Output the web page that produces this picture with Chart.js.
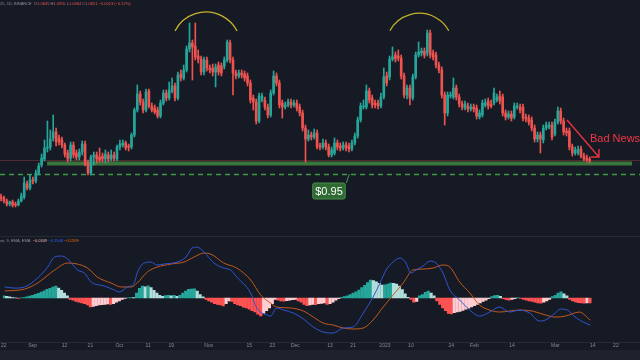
<!DOCTYPE html>
<html><head><meta charset="utf-8">
<script src="https://cdn.jsdelivr.net/npm/chart.js@4.4.0/dist/chart.umd.min.js"></script>
<style>
html,body{margin:0;padding:0;background:#161a25;width:640px;height:360px;overflow:hidden;}
#wrap{position:relative;width:640px;height:360px;background:#161a25;}
#pc{position:absolute;left:0;top:0;}
#mc{position:absolute;left:0;top:237px;}
.sep{position:absolute;left:0;width:640px;height:1px;background:#262a35;}
#strip{position:absolute;left:0;top:350px;width:640px;height:10px;background:#1e222d;}
.leg{position:absolute;left:0;font:4px 'Liberation Sans',sans-serif;color:#8f929b;white-space:nowrap;line-height:4px;}
</style></head>
<body><div id="wrap">
<canvas id="pc" width="640" height="236"></canvas>
<div class="sep" style="top:236px"></div>
<canvas id="mc" width="640" height="113"></canvas>
<div class="sep" style="top:342px"></div>
<div id="strip"></div>
<div class="leg" style="top:2px">25, 1D, BINANCE&nbsp; O<span style="color:#ef5350">1.0845</span> H<span style="color:#ef5350">1.0955</span> L<span style="color:#ef5350">1.0684</span> C<span style="color:#ef5350">1.0821</span> <span style="color:#ef5350">−0.0013 (−0.12%)</span></div>
<div class="leg" style="top:238.5px">se, 9, EMA, EMA&nbsp; <span style="color:#f5b3b1">−0.0349</span> <span style="color:#2962ff">−0.1948</span> <span style="color:#ff6d00">−0.1599</span></div>
</div>
<script>
// ---------- DATA ----------
const open = [
.72,.71,.68,.65,.67,.65,.64,.68,.72,.85,
.81,.89,.88,.96,1.04,1.10,1.21,1.22,1.31,1.37,
1.31,1.29,1.24,1.16,1.11,1.24,1.16,1.12,1.17,1.25,
1.06,.96,1.12,1.14,1.12,1.13,1.10,1.14,1.10,1.14,
1.10,1.22,1.24,1.26,1.23,1.22,1.34,1.59,1.75,1.67,
1.59,1.78,1.63,1.61,1.59,1.53,1.66,1.76,1.71,1.78,
1.83,1.71,1.95,1.91,1.99,2.20,2.26,2.23,2.13,2.10,
1.97,2.09,2.01,2.01,1.97,2.04,2.03,2.03,2.09,2.26,
2.09,1.96,1.93,1.96,1.95,1.93,1.86,1.71,1.67,1.48,
1.69,1.69,1.62,1.54,1.76,1.93,1.86,1.66,1.62,1.64,
1.67,1.64,1.66,1.62,1.56,1.41,1.30,1.34,1.32,1.36,
1.23,1.22,1.26,1.22,1.14,1.16,1.26,1.23,1.21,1.24,
1.23,1.20,1.26,1.33,1.49,1.62,1.62,1.78,1.71,1.66,
1.66,1.63,1.72,1.93,1.92,2.10,2.14,2.13,2.11,1.93,
1.74,1.81,1.71,1.92,2.14,2.16,2.18,2.16,2.36,2.16,
2.14,2.04,1.99,1.74,1.56,1.73,1.72,1.81,1.72,1.65,
1.61,1.63,1.60,1.62,1.61,1.52,1.54,1.64,1.68,1.65,
1.66,1.69,1.73,1.72,1.56,1.52,1.55,1.52,1.62,1.62,
1.62,1.52,1.51,1.49,1.41,1.30,1.34,1.29,1.41,1.42,
1.44,1.35,1.47,1.58,1.48,1.38,1.38,1.22,1.16,1.16,
1.20,1.13,1.11,1.10];
const close = [
.71,.68,.65,.67,.64,.64,.68,.73,.86,.81,
.89,.88,.96,1.03,1.11,1.21,1.22,1.30,1.37,1.27,
1.27,1.24,1.15,1.10,1.24,1.14,1.12,1.17,1.25,1.05,
.96,1.12,1.14,1.10,1.09,1.10,1.15,1.10,1.14,1.11,
1.22,1.25,1.26,1.21,1.22,1.34,1.59,1.75,1.67,1.59,
1.77,1.63,1.59,1.57,1.53,1.66,1.76,1.71,1.79,1.83,
1.71,1.94,1.91,1.99,2.20,2.26,2.22,2.12,2.10,1.97,
2.09,2.01,1.99,1.97,2.02,1.97,1.96,2.09,2.27,2.09,
1.96,1.93,1.96,1.94,1.91,1.86,1.69,1.67,1.48,1.73,
1.73,1.62,1.54,1.76,1.93,1.86,1.64,1.62,1.64,1.67,
1.64,1.66,1.61,1.56,1.41,1.30,1.34,1.32,1.36,1.22,
1.22,1.26,1.22,1.14,1.19,1.26,1.22,1.21,1.24,1.21,
1.20,1.26,1.33,1.49,1.63,1.63,1.78,1.69,1.64,1.64,
1.63,1.72,1.92,1.86,2.10,2.12,2.10,2.11,1.93,1.74,
1.81,1.71,1.92,2.14,2.17,2.18,2.14,2.36,2.14,2.12,
2.04,1.99,1.74,1.56,1.74,1.74,1.81,1.72,1.65,1.62,
1.65,1.60,1.62,1.60,1.53,1.56,1.66,1.66,1.63,1.63,
1.76,1.72,1.68,1.56,1.52,1.55,1.51,1.63,1.63,1.59,
1.51,1.50,1.47,1.41,1.30,1.34,1.30,1.41,1.44,1.44,
1.32,1.47,1.58,1.48,1.37,1.36,1.22,1.16,1.19,1.20,
1.13,1.10,1.09,1.08];
const high = [
.75,.73,.70,.68,.69,.67,.70,.76,.92,.88,
.94,.92,.99,1.06,1.15,1.29,1.48,1.39,1.54,1.41,
1.34,1.32,1.26,1.19,1.27,1.27,1.19,1.20,1.28,1.28,
1.09,1.14,1.17,1.17,1.21,1.16,1.19,1.17,1.19,1.17,
1.24,1.29,1.29,1.28,1.25,1.36,1.61,1.84,1.78,1.70,
1.80,1.80,1.66,1.64,1.62,1.69,1.79,1.79,1.87,1.91,
1.86,1.97,1.99,2.04,2.23,2.46,2.29,2.46,2.19,2.13,
2.12,2.12,2.04,2.05,2.05,2.07,2.06,2.12,2.29,2.29,
2.12,1.99,1.99,1.99,1.98,1.96,1.89,1.74,1.70,1.76,
1.76,1.72,1.65,1.79,1.98,1.96,1.89,1.69,1.67,1.70,
1.70,1.69,1.69,1.65,1.59,1.44,1.39,1.37,1.40,1.39,
1.26,1.30,1.29,1.25,1.22,1.31,1.29,1.26,1.27,1.27,
1.26,1.29,1.36,1.52,1.66,1.69,1.84,1.81,1.74,1.69,
1.69,1.76,2.01,1.97,2.13,2.22,2.17,2.19,2.14,1.96,
1.84,1.84,1.95,2.17,2.27,2.21,2.21,2.39,2.39,2.19,
2.17,2.07,2.02,1.77,1.77,1.77,1.91,1.84,1.75,1.68,
1.68,1.66,1.65,1.65,1.64,1.59,1.69,1.70,1.71,1.69,
1.81,1.75,1.78,1.75,1.59,1.58,1.58,1.66,1.66,1.65,
1.65,1.55,1.54,1.52,1.44,1.37,1.37,1.44,1.47,1.47,
1.47,1.50,1.62,1.61,1.51,1.41,1.41,1.25,1.22,1.23,
1.23,1.16,1.14,1.12];
const low = [
.68,.66,.63,.63,.62,.62,.63,.67,.70,.79,
.79,.85,.86,.94,1.02,1.08,1.17,1.19,1.28,1.23,
1.24,1.21,1.12,1.07,1.08,1.11,1.09,1.09,1.14,1.03,
.94,.94,1.04,1.06,1.07,1.07,1.06,1.07,1.08,1.08,
1.08,1.19,1.22,1.19,1.18,1.20,1.32,1.57,1.64,1.56,
1.57,1.61,1.57,1.55,1.51,1.51,1.64,1.68,1.69,1.76,
1.68,1.69,1.88,1.89,1.97,2.17,1.89,2.09,2.06,1.94,
1.94,1.98,1.96,1.93,1.82,1.94,1.93,2.00,2.07,2.06,
1.74,1.90,1.91,1.91,1.88,1.83,1.66,1.59,1.45,1.46,
1.67,1.59,1.51,1.52,1.74,1.83,1.61,1.51,1.60,1.62,
1.61,1.62,1.58,1.53,1.38,1.07,1.28,1.29,1.30,1.20,
1.19,1.20,1.19,1.12,1.12,1.14,1.19,1.18,1.19,1.18,
1.17,1.18,1.24,1.31,1.47,1.60,1.60,1.66,1.61,1.61,
1.60,1.61,1.70,1.83,1.89,2.08,2.07,2.08,1.90,1.71,
1.70,1.64,1.69,1.90,2.12,2.13,2.11,2.13,2.11,2.09,
2.01,1.96,1.71,1.44,1.53,1.71,1.70,1.69,1.62,1.59,
1.59,1.57,1.58,1.57,1.50,1.50,1.52,1.62,1.60,1.61,
1.64,1.67,1.65,1.53,1.49,1.50,1.48,1.50,1.60,1.56,
1.48,1.47,1.44,1.38,1.27,1.27,1.16,1.26,1.39,1.40,
1.29,1.33,1.45,1.45,1.34,1.33,1.19,1.13,1.14,1.14,
1.11,1.08,1.07,1.06];
// MACD histogram, one value per candle
const hist = [
.015,.012,.008,.004,.002,-.002,.001,.003,.008,.014,
.02,.027,.034,.043,.052,.062,.07,.079,.086,.072,
.055,.035,.015,-.01,-.015,-.025,-.03,-.035,-.04,-.05,
-.064,-.06,-.055,-.05,-.048,-.045,-.042,-.046,-.04,-.03,
-.02,-.01,-.003,.002,.004,.003,.035,.07,.085,.08,
.088,.075,.055,.035,.02,.012,.018,.02,.015,.02,
.012,.02,.035,.05,.062,.064,.065,.05,.025,.008,
-.01,-.02,-.03,-.04,-.045,-.05,-.057,-.04,-.02,-.025,
-.04,-.05,-.055,-.065,-.07,-.08,-.09,-.1,-.115,-.128,
-.11,-.09,-.07,-.04,-.01,-.015,-.02,-.022,-.018,-.015,
-.012,-.01,-.02,-.03,-.045,-.055,-.05,-.045,-.048,-.04,
-.038,-.035,-.045,-.04,-.03,-.015,-.005,.005,.01,.015,
.025,.035,.045,.057,.075,.09,.11,.128,.125,.115,
.105,.092,.095,.1,.107,.105,.1,.085,.06,.03,
.005,-.01,-.03,-.025,.015,.025,.04,.05,.035,.015,
-.02,-.045,-.07,-.09,-.11,-.114,-.105,-.1,-.095,-.088,
-.08,-.072,-.064,-.055,-.045,-.035,-.025,-.015,-.005,.01,
.018,.02,.012,-.005,-.012,-.015,-.01,-.005,.003,-.003,
-.01,-.015,-.02,-.025,-.03,-.035,-.036,-.03,-.02,-.01,
.01,.02,.035,.045,.03,.015,-.01,-.02,-.028,-.033,
-.035,-.036,-.035,-.035];
// MACD line, sampled (candle index, value)
const macdIdx = [0.3,3.8,7.2,11.7,15.2,17.6,20,21.7,23.4,25.5,27.9,30.3,34.8,38.3,40,42.8,45.2,46.2,48.6,51,53.1,55.5,60,63.1,65.2,66.9,69.3,72.8,76.2,78.6,80.7,85.5,87.6,91,92.4,94.5,96.9,100.3,103.8,107.2,110.7,114.1,117.6,121,124.5,127.9,130.3,132.4,134.8,137.2,139.3,141,142.8,145.2,147.6,149.7,152.1,154.5,157.9,161.4,164.8,168.3,171.7,175.2,178.6,182.1,185.5,187.6,191,192.8,195.2,197.9,201.4,203.1];
const macdVal = [.079,.071,.079,.143,.221,.293,.3,.286,.25,.2,.179,.114,.086,.057,.043,.079,.107,.179,.25,.257,.236,.243,.257,.293,.357,.364,.329,.25,.214,.2,.15,.036,-.071,-.121,-.129,-.071,-.086,-.107,-.15,-.207,-.243,-.25,-.214,-.207,-.107,.007,.107,.2,.257,.286,.25,.179,.2,.229,.264,.25,.179,.057,-.014,-.086,-.129,-.1,-.064,-.1,-.086,-.107,-.164,-.157,-.107,-.079,-.086,-.136,-.179,-.193];
// Signal line, sampled (candle index, value)
const sigIdx = [0.3,7.2,11.7,17.6,22.1,25.5,29,32.4,37.2,40.7,44.1,46.2,49.7,53.1,57.9,62.4,65.9,69.3,71.7,76.2,80.7,85.5,89,92.4,94.5,99.3,103.8,107.2,110.7,114.1,117.6,121,124.5,127.9,131.4,134.8,138.3,141.7,145.2,148.6,152.1,154.5,157.9,161.4,164.8,168.3,171.7,175.2,178.6,183.1,187.6,191,194.5,199.3,203.1];
const sigVal = [.05,.064,.107,.2,.25,.243,.214,.15,.107,.079,.079,.107,.186,.221,.243,.257,.293,.321,.314,.25,.214,.129,.021,-.036,-.064,-.071,-.093,-.136,-.179,-.193,-.214,-.221,-.214,-.157,-.064,.021,.107,.2,.207,.214,.236,.221,.114,.036,-.05,-.086,-.1,-.093,-.086,-.093,-.121,-.136,-.129,-.1,-.157];
// X-axis tick labels (candle index = days since Aug 22)
const tickIdx  = [0,10,21,30,40,50,58,71,85,93,101,113,121,132,141,155,163,176,191,204,212];
const tickText = ['22','Sep','12','21','Oct','11','19','Nov','15','23','Dec','13','21','2023','10','24','Feb','14','Mar','14','22'];
// Drawn levels / notes
const supportLevel = 0.95;
const supportZone = [1.035, 1.075];
const lastPriceLine = 1.09;

// ---------- CHARTS ----------
const UP='#26a69a', DOWN='#ef5350';
const idx = close.map((_,i)=>i);
const candleColors = idx.map(i=> close[i]>=open[i] ? UP : DOWN);
const X_MIN=-0.345, X_MAX=220.345;

const annot = {
  id:'annot',
  beforeDatasetsDraw(chart){
    const {ctx, scales:{x,y}} = chart;
    ctx.save();
    const yl = Math.round(y.getPixelForValue(lastPriceLine))+0.5;
    ctx.strokeStyle='rgba(239,83,80,0.28)'; ctx.lineWidth=1;
    ctx.beginPath(); ctx.moveTo(0,yl); ctx.lineTo(640,yl); ctx.stroke();
    const zt=y.getPixelForValue(supportZone[1]), zb=y.getPixelForValue(supportZone[0]);
    const zx1=x.getPixelForValue(15.9), zx2=x.getPixelForValue(217.6);
    ctx.fillStyle='#3a763c'; ctx.fillRect(zx1, zt, zx2-zx1, zb-zt);
    const yd=Math.round(y.getPixelForValue(supportLevel))+0.5;
    ctx.strokeStyle='#3f9a45'; ctx.lineWidth=1.4; ctx.setLineDash([5,4]);
    ctx.beginPath(); ctx.moveTo(0,yd); ctx.lineTo(640,yd); ctx.stroke();
    ctx.restore();
  },
  afterDatasetsDraw(chart){
    const {ctx, scales:{x,y}} = chart;
    ctx.save();
    const arcs=[[60,81.4,2.57,2.38],[134.1,154.4,2.557,2.383]];
    ctx.strokeStyle='#c4b22c'; ctx.lineWidth=1.3;
    arcs.forEach(([a,b,top,base])=>{
      const x1=x.getPixelForValue(a), x2=x.getPixelForValue(b);
      const yt=y.getPixelForValue(top), yb=y.getPixelForValue(base);
      const hw=(x2-x1)/2, s=yb-yt, r=(hw*hw+s*s)/(2*s);
      const cx=(x1+x2)/2, cy=yt+r;
      ctx.beginPath(); ctx.arc(cx,cy,r,Math.atan2(yb-cy,x1-cx),Math.atan2(yb-cy,x2-cx),false); ctx.stroke();
    });
    const lx=x.getPixelForValue(113.1), ly=y.getPixelForValue(0.78);
    ctx.font='11px "Liberation Sans", Arial, sans-serif';
    const tw=ctx.measureText('$0.95').width, bw=tw+5, bh=16;
    const bx=lx-bw/2, by=ly-bh/2;
    ctx.strokeStyle='#4f9a50'; ctx.lineWidth=1;
    ctx.beginPath(); ctx.moveTo(bx+bw+1, by); ctx.lineTo(bx+bw+4, y.getPixelForValue(supportLevel)); ctx.stroke();
    ctx.fillStyle='#2f6a33';
    ctx.beginPath(); ctx.roundRect(bx,by,bw,bh,2); ctx.fill();
    ctx.strokeStyle='#4a8c4c'; ctx.stroke();
    ctx.fillStyle='#ffffff'; ctx.textAlign='center'; ctx.textBaseline='middle';
    ctx.fillText('$0.95', lx, ly+0.5);
    const ax1=x.getPixelForValue(195.2), ay1=y.getPixelForValue(1.49);
    const ax2=x.getPixelForValue(206.2), ay2=y.getPixelForValue(1.12);
    ctx.strokeStyle='#e8323f'; ctx.lineWidth=1.4;
    ctx.beginPath(); ctx.moveTo(ax1,ay1); ctx.lineTo(ax2,ay2);
    ctx.moveTo(ax2-8,ay2); ctx.lineTo(ax2,ay2); ctx.lineTo(ax2,ay2-8); ctx.stroke();
    ctx.fillStyle='#f23645'; ctx.textAlign='left'; ctx.textBaseline='alphabetic';
    ctx.font='11px "Liberation Sans", Arial, sans-serif';
    ctx.fillText('Bad News', x.getPixelForValue(203.1), y.getPixelForValue(1.27));
    ctx.restore();
  }
};

new Chart(document.getElementById('pc'), {
  type:'bar',
  data:{datasets:[
    {data: idx.map(i=>({x:i, y:[open[i], close[i]]})), backgroundColor:candleColors, barThickness:2, minBarLength:1, grouped:false, order:0},
    {data: idx.map(i=>({x:i, y:[low[i], high[i]]})), backgroundColor:candleColors, barThickness:1, grouped:false, order:1}
  ]},
  options:{
    responsive:false, animation:false, devicePixelRatio:1,
    layout:{padding:0},
    plugins:{legend:{display:false}, tooltip:{enabled:false}},
    scales:{
      x:{type:'linear', min:X_MIN, max:X_MAX, offset:false, display:false},
      y:{min:0.33, max:2.69, display:false}
    }
  },
  plugins:[annot]
});

const histColors = hist.map((v,i)=>{
  const p = i ? hist[i-1] : 0;
  if (v>=0) return v>=p ? '#26a69a' : '#b2dfdb';
  return v<=p ? '#ff5252' : '#ffcdd2';
});

new Chart(document.getElementById('mc'), {
  type:'bar',
  data:{datasets:[
    {type:'line', data: macdIdx.map((v,i)=>({x:v, y:macdVal[i]})), borderColor:'#2f56d0', borderWidth:1, pointRadius:0, cubicInterpolationMode:'monotone', order:0},
    {type:'line', data: sigIdx.map((v,i)=>({x:v, y:sigVal[i]})), borderColor:'#c45a1c', borderWidth:1, pointRadius:0, cubicInterpolationMode:'monotone', order:1},
    {type:'bar', data: idx.map(i=>({x:i, y:hist[i]})), backgroundColor:histColors, barThickness:2.5, grouped:false, order:2}
  ]},
  options:{
    responsive:false, animation:false, devicePixelRatio:1,
    layout:{padding:0},
    plugins:{legend:{display:false}, tooltip:{enabled:false}},
    scales:{
      x:{type:'linear', min:X_MIN, max:X_MAX, offset:false,
         grid:{display:false, drawTicks:false}, border:{display:false},
         afterBuildTicks:(ax)=>{ ax.ticks = tickIdx.map(v=>({value:v})); },
         afterFit:(ax)=>{ ax.height = 8; },
         ticks:{autoSkip:false, maxRotation:0, padding:1, color:'#878a93',
                font:{size:5, family:'"Liberation Sans", Arial, sans-serif'},
                callback:(v)=>{ const k=tickIdx.indexOf(v); return k>=0 ? tickText[k] : ''; }}},
      y:{min:-0.314, max:0.436, display:false}
    }
  }
});
</script>
</body></html>
